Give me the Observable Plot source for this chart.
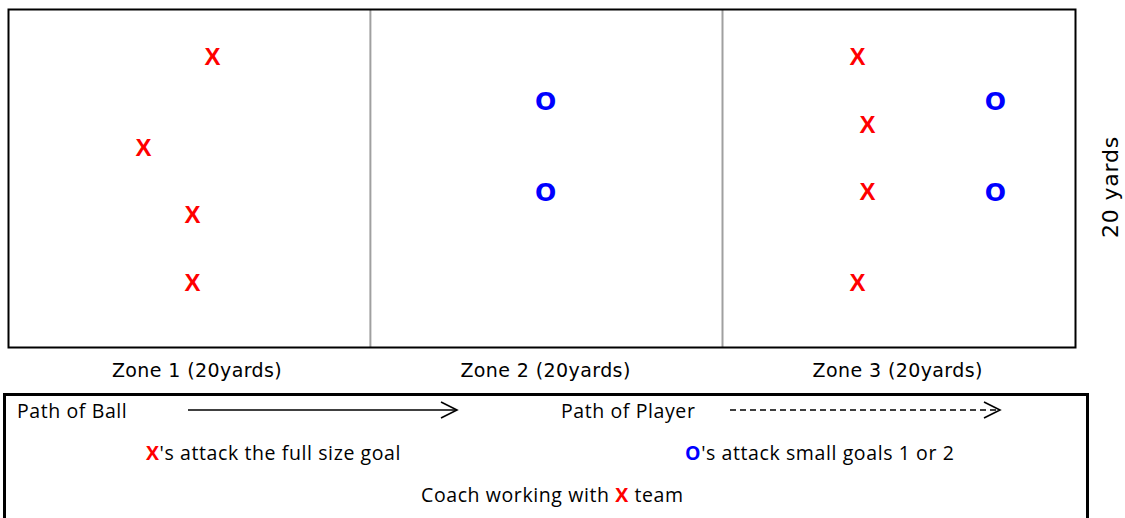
<!DOCTYPE html>
<html>
<head>
<meta charset="utf-8">
<script src="https://cdn.jsdelivr.net/npm/d3@7"></script>
<script src="https://cdn.jsdelivr.net/npm/@observablehq/plot@0.6"></script>
<style>
  html, body { margin: 0; padding: 0; background: #fff; }
  #wrap { position: relative; width: 1125px; height: 518px; overflow: hidden; }
  #legend { position: absolute; left: 3px; top: 393px; width: 1080px; height: 200px; border: 3.5px solid #000; }
  .lg { position: absolute; font-family: "Open Sans", sans-serif; font-size: 19.5px; letter-spacing: 0.6px; line-height: 22px; color: #000; white-space: nowrap; }
  .rx { color: #ff0000; font-weight: bold; }
  .bo { color: #0000ff; font-weight: bold; }
  svg.arrow { position: absolute; overflow: visible; }
</style>
</head>
<body>
<div id="wrap"></div>
<script>
// ---- data (field measured in yards, 0 = left edge / top edge) ----
const fieldLength = 60;
const fieldWidth = 20;
const zoneDividers = [20.35, 40.15];
const zoneLabels = ["Zone 1 (20yards)", "Zone 2 (20yards)", "Zone 3 (20yards)"];
const zoneLabelX = [10.6, 30.2, 50.0];
const sideLabel = "20 yards";

const xTeamX = [11.47, 7.59, 10.35, 10.35, 47.74, 48.30, 48.30, 47.74];
const xTeamY = [2.84, 8.22, 12.19, 16.21, 2.84, 6.86, 10.83, 16.21];
const oTeamX = [30.2, 30.2, 55.5, 55.5];
const oTeamY = [5.50, 10.83, 5.50, 10.83];

const legendPaths = ["Path of Ball", "Path of Player"];
const legendNotes = ["'s attack the full size goal", "'s attack small goals 1 or 2", "Coach working with ", " team"];

const xPlayers = xTeamX.map((x, i) => ({x, y: xTeamY[i]}));
const oPlayers = oTeamX.map((x, i) => ({x, y: oTeamY[i]}));

const chart = Plot.plot({
  width: 1125,
  height: 390,
  marginLeft: 8,
  marginRight: 50,
  marginTop: 9,
  marginBottom: 43,
  x: {domain: [0, fieldLength], axis: null},
  y: {domain: [0, fieldWidth], reverse: true, axis: null},
  marks: [
    Plot.ruleX(zoneDividers, {stroke: "#a0a0a0", strokeWidth: 2}),
    Plot.frame({stroke: "#000", strokeWidth: 2}),
    Plot.text(xPlayers, {x: "x", y: "y", text: () => "X", fill: "#ff0000", fontSize: 24, fontWeight: "bold", fontFamily: "Liberation Sans, Arial, sans-serif"}),
    Plot.text(oPlayers, {x: "x", y: "y", text: () => "O", fill: "#0000ff", fontSize: 25, fontWeight: "bold", fontFamily: "DejaVu Sans, sans-serif"}),
    Plot.text(zoneLabels, {x: (d, i) => zoneLabelX[i], frameAnchor: "bottom", lineAnchor: "middle", dy: 23, text: d => d, fontSize: 19, fontFamily: "DejaVu Sans, sans-serif", fill: "#000"}),
    Plot.text([sideLabel], {x: () => fieldLength, y: () => fieldWidth * 0.525, dx: 35, rotate: -90, text: d => d, fontSize: 22, fontFamily: "DejaVu Sans, sans-serif", fill: "#000"})
  ]
});
chart.style.position = "absolute";
chart.style.left = "0px";
chart.style.top = "0px";
d3.select(chart).selectAll("text").filter(function() { return /Zone/.test(this.textContent); }).style("letter-spacing", "0.4px");
d3.select(chart).selectAll("text").filter(function() { return /20 yards/.test(this.textContent); }).style("letter-spacing", "0.8px");

const wrap = document.getElementById("wrap");
wrap.appendChild(chart);

const legend = document.createElement("div");
legend.id = "legend";
wrap.appendChild(legend);

function addText(html, left, centerY) {
  const s = document.createElement("div");
  s.className = "lg";
  s.innerHTML = html;
  s.style.left = left + "px";
  s.style.top = (centerY - 11) + "px";
  wrap.appendChild(s);
  return s;
}
function addArrow(x1, x2, y, dashed) {
  const ns = "http://www.w3.org/2000/svg";
  const svg = document.createElementNS(ns, "svg");
  svg.setAttribute("class", "arrow");
  svg.setAttribute("width", x2 - x1 + 4);
  svg.setAttribute("height", 20);
  svg.style.left = x1 + "px";
  svg.style.top = (y - 10) + "px";
  const L = x2 - x1;
  const line = document.createElementNS(ns, "line");
  line.setAttribute("x1", 0); line.setAttribute("y1", 10);
  line.setAttribute("x2", L); line.setAttribute("y2", 10);
  line.setAttribute("stroke", "#000"); line.setAttribute("stroke-width", 1.6);
  if (dashed) line.setAttribute("stroke-dasharray", "6,4");
  svg.appendChild(line);
  const head = document.createElementNS(ns, "polyline");
  head.setAttribute("points", `${L - 16},2 ${L},10 ${L - 16},18`);
  head.setAttribute("fill", "none");
  head.setAttribute("stroke", "#000"); head.setAttribute("stroke-width", 1.6);
  svg.appendChild(head);
  wrap.appendChild(svg);
}

addText(legendPaths[0], 17, 411);
addArrow(188, 457, 410, false);
addText(legendPaths[1], 561, 411);
addArrow(730, 1000, 410, true);
addText(`<span class="rx">X</span>${legendNotes[0]}`, 146, 453);
addText(`<span class="bo">O</span>${legendNotes[1]}`, 685, 453);
addText(`${legendNotes[2]}<span class="rx">X</span>${legendNotes[3]}`, 421, 495);
</script>
</body>
</html>
